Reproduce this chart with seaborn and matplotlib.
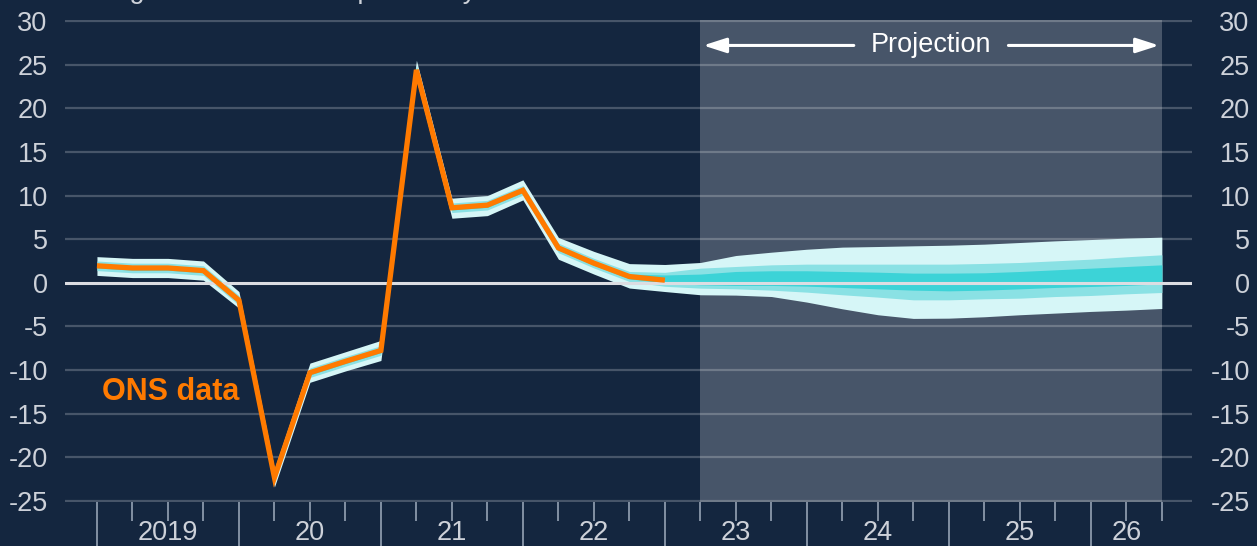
import numpy as np
import pandas as pd
import matplotlib
matplotlib.use('Agg')
import matplotlib.pyplot as plt
import seaborn as sns

# quarters 2019 Q1 .. 2026 Q3, history ends 2023 Q1, projection starts 2023 Q2
quarters = pd.period_range('2019Q1', '2026Q3', freq='Q')
last_data_q = '2023Q1'
proj_start_q = '2023Q2'

# four-quarter GDP growth, ONS data
ons_growth = [1.95, 1.7, 1.7, 1.4, -2.0, -22.3, -10.3, -9.0, -7.75, 24.4, 8.6, 8.9,
              10.6, 4.0, 2.25, 0.72, 0.3]

# fan bands (outer / middle / inner), one value per quarter
outer_hi = [3.0, 2.8, 2.8, 2.5, -1.0, -21.3, -9.2, -7.9, -6.6, 25.5, 9.7, 10.0, 11.8,
            5.2, 3.6, 2.2, 2.1, 2.33, 3.13, 3.51, 3.85, 4.09, 4.16, 4.24, 4.31, 4.43,
            4.62, 4.81, 4.96, 5.12, 5.23]
outer_lo = [0.85, 0.6, 0.6, 0.3, -2.9, -23.4, -11.4, -10.1, -8.9, 23.3, 7.4, 7.7, 9.5,
            2.7, 1.0, -0.6, -1.0, -1.37, -1.41, -1.57, -2.21, -2.98, -3.66, -4.08,
            -4.05, -3.89, -3.66, -3.47, -3.28, -3.13, -2.94]
mid_hi = [2.5, 2.25, 2.25, 1.95, -1.45, -21.75, -9.75, -8.45, -7.2, 24.95, 9.15, 9.45,
          11.15, 4.55, 2.8, 1.3, 1.2, 1.68, 1.87, 2.06, 2.14, 2.14, 2.14, 2.14, 2.14,
          2.22, 2.33, 2.52, 2.71, 2.98, 3.21]
mid_lo = [1.4, 1.15, 1.15, 0.85, -2.55, -22.85, -10.85, -9.55, -8.3, 23.85, 8.05, 8.35,
          10.05, 3.45, 1.7, 0.15, -0.4, -0.61, -0.69, -0.84, -1.07, -1.37, -1.64, -1.95,
          -1.95, -1.83, -1.76, -1.57, -1.45, -1.26, -1.11]
inner_hi = [2.2, 1.95, 1.95, 1.65, -1.75, -22.05, -10.05, -8.75, -7.5, 24.65, 8.85, 9.15,
            10.85, 4.25, 2.5, 1.0, 0.9, 1.0, 1.30, 1.38, 1.38, 1.30, 1.22, 1.11, 1.11,
            1.15, 1.30, 1.49, 1.68, 1.87, 2.06]
inner_lo = [1.7, 1.45, 1.45, 1.15, -2.25, -22.55, -10.55, -9.25, -8.0, 24.15, 8.35, 8.65,
            10.35, 3.75, 2.0, 0.45, 0.0, -0.23, -0.3, -0.3, -0.38, -0.53, -0.69, -0.84,
            -0.92, -0.84, -0.69, -0.53, -0.42, -0.3, -0.11]

y_ticks = [30, 25, 20, 15, 10, 5, 0, -5, -10, -15, -20, -25]
subtitle = 'Percentage increases in output on a year earlier'

bg = '#14263f'
label_col = '#cdd1d9'
orange = '#ff7a00'
fan_cols = ['#d6f6f7', '#8ae1e4', '#3cd3d7']

sns.set_style('dark', {'axes.facecolor': bg, 'figure.facecolor': bg})
plt.rcParams['font.family'] = ['Liberation Sans', 'DejaVu Sans']

fig = plt.figure(figsize=(12.57, 5.46), dpi=100)
ax = fig.add_axes([65 / 1257, 1 - 502.3 / 546, 1127 / 1257, 482.6 / 546])
ax.set_facecolor(bg)

qpos = np.arange(len(quarters))
hist_n = list(quarters).index(pd.Period(last_data_q, 'Q')) + 1
proj0 = list(quarters).index(pd.Period(proj_start_q, 'Q'))

# projection shading
ax.axvspan(proj0, qpos[-1], color='white', alpha=0.22, lw=0, zorder=0.3)

# grid
for v in y_ticks:
    if v != 0:
        ax.axhline(v, color='white', alpha=0.22, lw=1.6, zorder=0.6)

# fan
for (lo, hi), c in zip([(outer_lo, outer_hi), (mid_lo, mid_hi), (inner_lo, inner_hi)], fan_cols):
    ax.fill_between(qpos, lo, hi, color=c, lw=0, zorder=2)

ax.axhline(0, color='#dcdde2', lw=2.2, zorder=3)

df = pd.DataFrame({'q': qpos[:hist_n], 'growth': ons_growth})
sns.lineplot(data=df, x='q', y='growth', color=orange, linewidth=3.8, ax=ax, zorder=4,
             solid_joinstyle='miter', solid_capstyle='butt')

ax.text(0.15, -12.5, 'ONS data', color=orange, fontsize=22, fontweight='bold',
        va='center', ha='left', zorder=5)

# projection arrows
arrow_y = 27.2
ax.text((proj0 + qpos[-1]) / 2, arrow_y, 'Projection', color='white', fontsize=19.5,
        ha='center', va='center', zorder=5)
ax.annotate('', xy=(proj0, arrow_y), xytext=(21.4, arrow_y),
            arrowprops=dict(arrowstyle='-|>,head_length=1.4,head_width=0.45', color='white', lw=2.2))
ax.annotate('', xy=(qpos[-1], arrow_y), xytext=(25.6, arrow_y),
            arrowprops=dict(arrowstyle='-|>,head_length=1.4,head_width=0.45', color='white', lw=2.2))

ax.set_xlim(-0.9, 30.85)
ax.set_ylim(-25.15, 30.15)
ax.set_xlabel('')
ax.set_ylabel('')
for s in ax.spines.values():
    s.set_visible(False)

# x ticks: year boundaries long, quarters short
year_starts = [i for i, p in enumerate(quarters) if p.quarter == 1]
ax.set_xticks(year_starts)
ax.set_xticks([i for i in qpos if i not in year_starts], minor=True)
ax.tick_params(axis='x', which='major', length=34, width=1.4, color='#8390a3',
               labelbottom=False, direction='out', bottom=True)
ax.tick_params(axis='x', which='minor', length=14, width=1.4, color='#8390a3',
               labelbottom=False, direction='out', bottom=True)
for i, s in enumerate(year_starts):
    end = min(s + 4, qpos[-1])
    lab = str(quarters[s].year) if i == 0 else str(quarters[s].year)[2:]
    ax.annotate(lab, xy=((s + end) / 2, 0), xycoords=('data', 'axes fraction'),
                xytext=(0, -22.4), textcoords='offset points', ha='center', va='center',
                fontsize=19.5, color=label_col)

# y labels on both sides
ax.set_yticks(y_ticks)
ax.set_yticklabels([str(v) for v in y_ticks])
ax.tick_params(axis='y', length=0, pad=12.5, labelsize=19.5, labelcolor=label_col)
ax2 = ax.twinx()
ax2.set_ylim(ax.get_ylim())
ax2.set_yticks(y_ticks)
ax2.set_yticklabels([str(v) for v in y_ticks], ha='right')
ax2.tick_params(axis='y', length=0, pad=41.5, labelsize=19.5, labelcolor=label_col)
for s in ax2.spines.values():
    s.set_visible(False)
ax2.grid(False)
ax.grid(False)

fig.text(21 / 1257, 1 + 1.5 / 546, subtitle, ha='left', va='baseline', fontsize=19.5,
         color=label_col)

fig.savefig('out.png', dpi=100, facecolor=bg)
